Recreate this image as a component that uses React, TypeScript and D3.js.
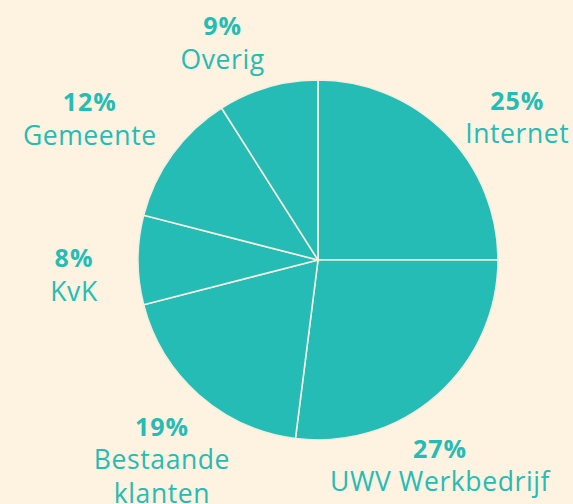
import React from "react";
import * as d3 from "d3";

const categories = ["Internet", "UWV Werkbedrijf", "Bestaande klanten", "KvK", "Gemeente", "Overig"];
const values = [25, 27, 19, 8, 12, 9];
const labelLines = [["Internet"], ["UWV Werkbedrijf"], ["Bestaande", "klanten"], ["KvK"], ["Gemeente"], ["Overig"]];

const W = 573;
const H = 504;
const BG = "#FEF3E0";
const TEAL = "#24BCB5";

// label nudges relative to centroid at label radius
const nudges: [number, number][] = [
  [26, 31],
  [-40, 22],
  [6, 17],
  [1, 15.5],
  [-30, 3.5],
  [-27, 19],
];

export default function App() {
  const cx = 318;
  const cy = 260;
  const r = 180;
  const data = categories.map((c, i) => ({ c, v: values[i], i }));
  const pie = d3.pie<any>().value((d) => d.v).sort(null);
  const arcs = pie(data);
  const arc = d3.arc<any>().innerRadius(0).outerRadius(r);
  const labelArc = d3.arc<any>().innerRadius(245).outerRadius(245);
  const lineH = 33.5;
  return (
    <svg
      width={W}
      height={H}
      style={{ position: "absolute", left: 0, top: 0, background: BG }}
      fontFamily="'Open Sans', sans-serif"
    >
      <rect width={W} height={H} fill={BG} />
      <g transform={`translate(${cx},${cy})`}>
        {arcs.map((a, i) => (
          <path key={i} d={arc(a) as string} fill={TEAL} stroke="#F4EEDF" strokeWidth={1.6} />
        ))}
      </g>
      {arcs.map((a, i) => {
        const [lx, ly] = labelArc.centroid(a);
        const x = cx + lx + nudges[i][0];
        const y = cy + ly + nudges[i][1];
        const lines = labelLines[i];
        const nLines = lines.length + 1;
        const blockH = 17 + (nLines - 1) * lineH;
        const firstBase = y - blockH / 2 + 17;
        return (
          <g key={i} fill={TEAL} textAnchor="middle">
            <text x={x} y={firstBase} fontSize={25} fontWeight={700} letterSpacing={1}>
              {values[i]}%
            </text>
            {lines.map((t, j) => (
              <text key={j} x={x} y={firstBase + (j + 1) * lineH} fontSize={26.5} letterSpacing={0.6}>
                {t}
              </text>
            ))}
          </g>
        );
      })}
    </svg>
  );
}
